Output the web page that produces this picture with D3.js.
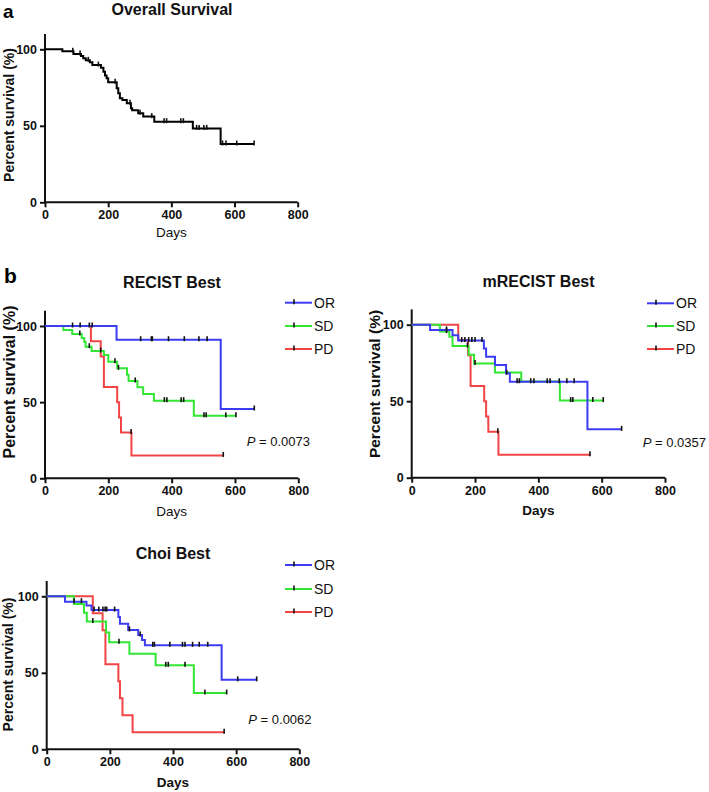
<!DOCTYPE html>
<html><head><meta charset="utf-8">
<script src="https://cdn.jsdelivr.net/npm/d3@7"></script>
<style>
body{margin:0;background:#fff;}
svg{display:block;font-family:"Liberation Sans",Arial,sans-serif;}
</style></head>
<body>
<svg id="chart" width="709" height="792"></svg>
<script>
// ---------- data ----------
const dayTicks = [0, 200, 400, 600, 800];
const pctTicks = [0, 50, 100];
const groupNames = ["OR", "SD", "PD"];

// Overall survival: [day, survival % after event], censored days
const osEvents = [[55,98.7],[90,97.0],[114,95.6],[121,94.1],[129,92.8],[142,91.5],[150,89.7],[177,88.0],[185,85.4],[190,82.8],[195,81.0],[200,78.4],[227,74.5],[232,71.2],[237,68.0],[245,66.9],[259,64.7],[272,61.5],[276,60.1],[295,58.2],[311,56.0],[346,52.7],[468,48.3],[556,38.1]];
const osCensor = [88,111,137,169,222,269,301,338,377,385,430,438,480,488,503,512,562,573,607,662];

// RECIST Best
const recistOREvents = [[226,91.0],[555,45.5]];
const recistORCensor = [87,111,140,149,302,336,339,390,440,486,512,661];
const recistSDEvents = [[58,97.4],[86,94.8],[116,92.2],[124,89.6],[128,86.4],[147,83.6],[186,81.0],[200,76.6],[228,72.2],[259,68.0],[264,63.9],[292,59.8],[310,55.4],[344,51.0],[470,41.0]];
const recistSDCensor = [110,140,176,221,232,285,377,385,430,438,502,509,571,603];
const recistPDEvents = [[145,90],[176,80],[186,60],[228,50],[234,40],[240,30],[273,15]];
const recistPDCensor = [272,563];

// mRECIST Best
const mrecistOREvents = [[58,96.6],[129,93.1],[147,89.6],[228,84.5],[235,79.1],[263,73.6],[298,68.2],[310,62.7],[555,31.6]];
const mrecistORCensor = [110,158,168,180,190,200,222,300,333,340,376,386,428,437,466,490,513,663];
const mrecistSDEvents = [[89,95.5],[119,92.2],[129,86.1],[180,80.4],[197,74.6],[263,68.7],[346,62.8],[468,50.4]];
const mrecistSDCensor = [110,176,200,502,509,572,605];
const mrecistPDEvents = [[147,90],[178,80],[186,60],[229,50],[235,40],[242,30],[274,15]];
const mrecistPDCensor = [272,563];

// Choi Best
const choiOREvents = [[58,96.5],[126,94.0],[142,91.0],[227,86.5],[232,82.0],[258,78.0],[290,74.7],[302,71.4],[311,68.0],[554,45.4]];
const choiORCensor = [87,110,150,165,178,185,190,215,262,296,336,341,390,430,438,462,483,510,605,665];
const choiSDEvents = [[86,95],[118,89.3],[127,83.5],[188,76.4],[198,69.9],[262,62.5],[345,54.9],[466,36.8]];
const choiSDCensor = [146,229,377,385,438,501,570];
const choiPDEvents = [[146,88.9],[177,77.8],[186,55.6],[227,44.4],[232,33.3],[240,22.2],[272,11.1]];
const choiPDCensor = [562];

const pValues = {recist: "0.0073", mrecist: "0.0357", choi: "0.0062"};

// ---------- styles ----------
const colors = {OR: "#3c3cf2", SD: "#33e633", PD: "#f24444", all: "#000"};

const svg = d3.select("#chart");

function survAt(events, t) {
  let s = 100;
  for (const [et, es] of events) { if (et <= t) s = es; }
  return s;
}

function drawPanel(cfg) {
  const x = d3.scaleLinear().domain([0, 800]).range([cfg.x0, cfg.x1]);
  const y = d3.scaleLinear().domain([0, 100]).range([cfg.y0, cfg.y100]);
  const g = svg.append("g");

  // axes
  const ya = d3.axisLeft(y).tickValues(pctTicks).tickSize(5).tickPadding(3).tickSizeOuter(0);
  const xa = d3.axisBottom(x).tickValues(dayTicks).tickSize(5).tickPadding(3).tickSizeOuter(0);
  const yG = g.append("g").attr("transform", `translate(${cfg.x0},0)`).call(ya);
  yG.select(".domain").attr("d", `M0,${y(110)}V${cfg.y0}`);
  const xG = g.append("g").attr("transform", `translate(0,${cfg.y0})`).call(xa);
  xG.select(".domain").attr("d", `M${cfg.x0},0H${cfg.x1}`);
  [yG, xG].forEach(a => {
    a.selectAll(".domain").attr("stroke", "#111").attr("stroke-width", 2);
    a.selectAll(".tick line").attr("stroke", "#111").attr("stroke-width", 2);
    a.selectAll(".tick text").attr("fill", "#111").attr("font-size", 12.5)
      .attr("font-weight", "bold").attr("font-family", "Liberation Sans, Arial, sans-serif");
  });

  // curves
  cfg.series.forEach(s => {
    const lastT = Math.max(d3.max(s.events, d => d[0]) || 0, d3.max(s.censor) || 0);
    const pts = [[0, 100]];
    let cur = 100;
    s.events.forEach(([t, v]) => { pts.push([t, cur]); pts.push([t, v]); cur = v; });
    pts.push([lastT, cur]);
    const line = d3.line().x(d => x(d[0])).y(d => y(d[1]));
    g.append("path").attr("d", line(pts)).attr("fill", "none")
      .attr("stroke", s.color).attr("stroke-width", 2);
    g.selectAll(null).data(s.censor).enter().append("line")
      .attr("x1", d => x(d)).attr("x2", d => x(d))
      .attr("y1", d => y(survAt(s.events, d)) - 3.5)
      .attr("y2", d => y(survAt(s.events, d)) + 1.5)
      .attr("stroke", "#111").attr("stroke-width", 1.6);
  });

  // title
  g.append("text").attr("x", cfg.titleX).attr("y", cfg.titleY).attr("text-anchor", "middle")
    .attr("font-size", 16).attr("font-weight", "bold").attr("fill", "#111").text(cfg.title);
  // y label
  g.append("text").attr("transform", `translate(${cfg.yLabX},${cfg.yLabY}) rotate(-90)`)
    .attr("text-anchor", "middle").attr("font-size", cfg.yLabSize).attr("font-weight", "bold")
    .attr("fill", "#111").text("Percent survival (%)");
  // x label
  g.append("text").attr("x", (cfg.x0 + cfg.x1) / 2).attr("y", cfg.xLabY).attr("text-anchor", "middle")
    .attr("font-size", 13.5).attr("font-weight", cfg.xLabBold ? "bold" : "normal")
    .attr("fill", "#111").text("Days");

  // legend
  if (cfg.legend) {
    cfg.series.slice().reverse().forEach((s, i) => {
      const ly = cfg.legend.ys[i];
      g.append("line").attr("x1", cfg.legend.x).attr("x2", cfg.legend.x + 27)
        .attr("y1", ly).attr("y2", ly).attr("stroke", s.color).attr("stroke-width", 2);
      g.append("line").attr("x1", cfg.legend.x + 9).attr("x2", cfg.legend.x + 9)
        .attr("y1", ly - 3.5).attr("y2", ly + 1.5).attr("stroke", "#111").attr("stroke-width", 1.6);
      g.append("text").attr("x", cfg.legend.x + 29).attr("y", ly + 5)
        .attr("font-size", 14).attr("fill", "#111").text(s.name);
    });
  }
  // p value
  if (cfg.p) {
    const t = g.append("text").attr("x", cfg.p.x).attr("y", cfg.p.y)
      .attr("font-size", 13).attr("fill", "#111");
    t.append("tspan").attr("font-style", "italic").text("P");
    t.append("tspan").text(" = " + cfg.p.v);
  }
}

// panel letters
svg.append("text").attr("x", 3).attr("y", 17.5).attr("font-size", 19).attr("font-weight", "bold").text("a");
svg.append("text").attr("x", 4).attr("y", 283).attr("font-size", 21).attr("font-weight", "bold").text("b");

drawPanel({
  x0: 45, x1: 297.7, y0: 202.3, y100: 49.3,
  title: "Overall Survival", titleX: 172, titleY: 15,
  yLabX: 14, yLabY: 115, yLabSize: 14, xLabY: 237, xLabBold: false,
  series: [{name: "All", events: osEvents, censor: osCensor, color: colors.all}]
});

drawPanel({
  x0: 45, x1: 298.3, y0: 478.3, y100: 326,
  title: "RECIST Best", titleX: 172, titleY: 287.7,
  yLabX: 15, yLabY: 382, yLabSize: 16, xLabY: 516, xLabBold: false,
  series: [
    {name: groupNames[2], events: recistPDEvents, censor: recistPDCensor, color: colors.PD},
    {name: groupNames[1], events: recistSDEvents, censor: recistSDCensor, color: colors.SD},
    {name: groupNames[0], events: recistOREvents, censor: recistORCensor, color: colors.OR}
  ],
  legend: {x: 285, ys: [302.7, 326, 349]},
  p: {x: 246.7, y: 446, v: pValues.recist}
});

drawPanel({
  x0: 411.7, x1: 665, y0: 477.7, y100: 324.7,
  title: "mRECIST Best", titleX: 538.5, titleY: 287.3,
  yLabX: 380, yLabY: 384, yLabSize: 15.5, xLabY: 514.5, xLabBold: true,
  series: [
    {name: groupNames[2], events: mrecistPDEvents, censor: mrecistPDCensor, color: colors.PD},
    {name: groupNames[1], events: mrecistSDEvents, censor: mrecistSDCensor, color: colors.SD},
    {name: groupNames[0], events: mrecistOREvents, censor: mrecistORCensor, color: colors.OR}
  ],
  legend: {x: 647, ys: [303.3, 326, 349]},
  p: {x: 642.7, y: 446.7, v: pValues.mrecist}
});

drawPanel({
  x0: 46.7, x1: 299.3, y0: 749.3, y100: 596.3,
  title: "Choi Best", titleX: 173, titleY: 559,
  yLabX: 13, yLabY: 664.5, yLabSize: 14, xLabY: 786.7, xLabBold: true,
  series: [
    {name: groupNames[2], events: choiPDEvents, censor: choiPDCensor, color: colors.PD},
    {name: groupNames[1], events: choiSDEvents, censor: choiSDCensor, color: colors.SD},
    {name: groupNames[0], events: choiOREvents, censor: choiORCensor, color: colors.OR}
  ],
  legend: {x: 285, ys: [565, 589, 612]},
  p: {x: 248.3, y: 724, v: pValues.choi}
});
</script>
</body></html>
